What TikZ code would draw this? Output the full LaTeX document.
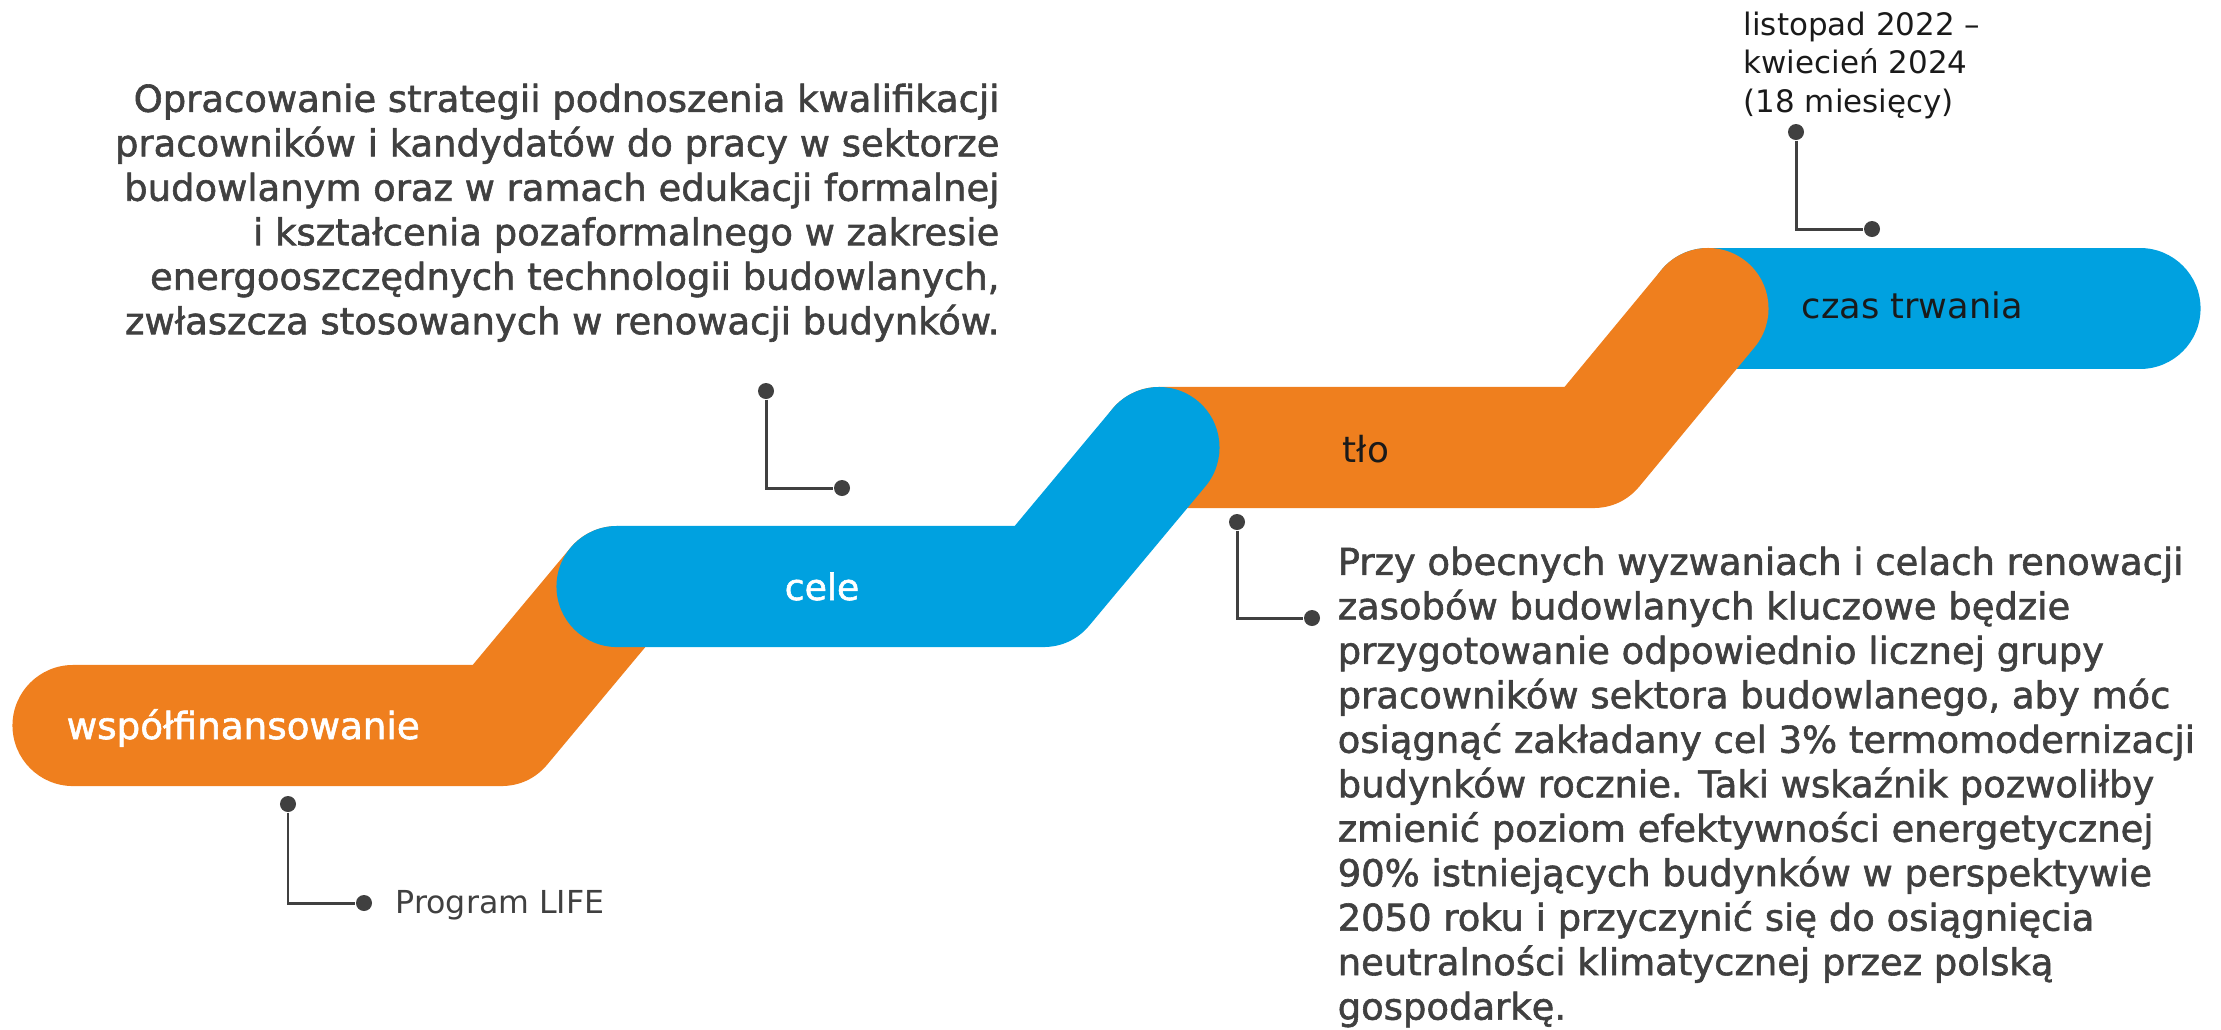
\documentclass[tikz,border=0pt]{standalone}
\usepackage{fontspec}
\setmainfont{DejaVu Sans}
\newfontfamily\heavyfont{DejaVu Sans}[FakeBold=1.6]
\usetikzlibrary{positioning}

\definecolor{lifeorange}{RGB}{239,127,30}
\definecolor{lifeblue}{RGB}{0,161,224}
\definecolor{inkgray}{RGB}{64,64,64}
\definecolor{inkblack}{RGB}{26,26,26}

\tikzset{
	ribbon/.style={line width=1.21cm, line cap=round, line join=round},
	pin/.style={circle, fill=inkgray, inner sep=0pt, minimum size=0.16cm},
	leader/.style={draw=inkgray, line width=0.85pt},
	barlabel/.style={font=\fontsize{10.2}{12}\selectfont, inner sep=0pt},
	pinlabel/.style={font=\fontsize{9}{11}\selectfont, inner sep=0pt, align=left},
	bodytext/.style={font=\heavyfont\fontsize{10.5}{12.65}\selectfont, text=inkgray, inner sep=0pt},
}

\begin{document}
\begin{tikzpicture}[x=0.01cm, y=-0.01cm]
	\useasboundingbox (0,0) rectangle (2221,1029);

	% ribbons, back to front
	\draw[ribbon, lifeblue] (1708,308.5) -- (2140,308.5);
	\draw[ribbon, lifeorange] (1159,447.5) -- (1593,447.5) -- (1708,308.5);
	\draw[ribbon, lifeorange] (73,725.5) -- (501,725.5) -- (617,586.5);
	\draw[ribbon, lifeblue] (617,586.5) -- (1043,586.5) -- (1159,447.5);

	% labels on the ribbons
	\node[barlabel, font=\heavyfont\fontsize{10.6}{12}\selectfont, text=white, anchor=base west] (cofin) at (66,739) {współfinansowanie};
	\node[barlabel, font=\heavyfont\fontsize{10.3}{12}\selectfont, text=white, anchor=base] (goals) at (822,600) {cele};
	\node[barlabel, text=inkblack, anchor=base] (background) at (1366,462) {tło};
	\node[barlabel, font=\fontsize{10}{12}\selectfont, text=inkblack, anchor=base west] (duration) at (1801,318) {czas trwania};

	% leaders
	\node[pin] (lifeA) at (288,804) {};
	\node[pin] (lifeB) at (364,903) {};
	\draw[leader] (lifeA) |- (lifeB);
	\node[pinlabel, text=inkgray, anchor=base west] (lifetext) at (395,913) {Program LIFE};

	\node[pin] (goalA) at (766,391) {};
	\node[pin] (goalB) at (842,488) {};
	\draw[leader] (goalA) |- (goalB);

	\node[pin] (bgA) at (1237,522) {};
	\node[pin] (bgB) at (1312,618) {};
	\draw[leader] (bgA) |- (bgB);

	\node[pin] (timeA) at (1796,132) {};
	\node[pin] (timeB) at (1872,229) {};
	\draw[leader] (timeA) |- (timeB);
	\node[pinlabel, font=\fontsize{8.8}{11}\selectfont, text=inkblack, anchor=north west] (timetext) at (1743,11)
		{listopad 2022 –\\kwiecień 2024\\(18 miesięcy)};

	% long texts
	\node[bodytext, align=right, anchor=north east] (goaltext) at (1000,83)
		{Opracowanie strategii podnoszenia kwalifikacji\\
		pracowników i kandydatów do pracy w sektorze\\
		budowlanym oraz w ramach edukacji formalnej\\
		i kształcenia pozaformalnego w zakresie\\
		energooszczędnych technologii budowlanych,\\
		zwłaszcza stosowanych w renowacji budynków.};

	\node[bodytext, align=left, anchor=north west] (bgtext) at (1337,546)
		{Przy obecnych wyzwaniach i celach renowacji\\
		zasobów budowlanych kluczowe będzie\\
		przygotowanie odpowiednio licznej grupy\\
		pracowników sektora budowlanego, aby móc\\
		osiągnąć zakładany cel 3\% termomodernizacji\\
		budynków rocznie. Taki wskaźnik pozwoliłby\\
		zmienić poziom efektywności energetycznej\\
		90\% istniejących budynków w perspektywie\\
		2050 roku i przyczynić się do osiągnięcia\\
		neutralności klimatycznej przez polską\\
		gospodarkę.};
\end{tikzpicture}
\end{document}
